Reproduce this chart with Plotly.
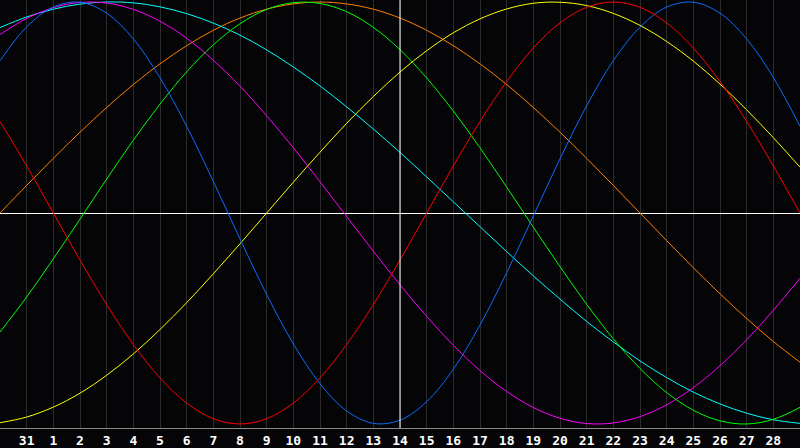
import plotly.graph_objects as go

# day labels along the bottom (index 0 and 30 sit on the frame edges, unlabeled)
days = list(range(31))
day_labels = ["31"] + [str(d) for d in range(1, 29)]
today_index = 15  # the "14" column, drawn as a white line

# cycle values at each day column
physical = [0.721, 0.882, 0.976, 0.999, 0.947, 0.825, 0.641, 0.411, 0.150, -0.123,
            -0.386, -0.620, -0.809, -0.938, -0.997, -0.982, -0.894, -0.740, -0.531, -0.283,
            -0.014, 0.257, 0.508, 0.722, 0.881, 0.976, 0.999, 0.947, 0.825, 0.642, 0.411]
emotional = [0.434, 0.223, 0.000, -0.223, -0.434, -0.623, -0.782, -0.901, -0.975, -1.000,
             -0.975, -0.901, -0.782, -0.623, -0.434, -0.223, 0.000, 0.223, 0.434, 0.623,
             0.782, 0.901, 0.975, 1.000, 0.975, 0.901, 0.782, 0.623, 0.434, 0.223, 0.000]
intellectual = [-0.564, -0.398, -0.217, -0.029, 0.161, 0.345, 0.516, 0.669, 0.797, 0.897,
                0.965, 0.997, 0.993, 0.954, 0.880, 0.774, 0.640, 0.483, 0.309, 0.123,
                -0.067, -0.254, -0.433, -0.596, -0.737, -0.851, -0.935, -0.985, -1.000, -0.978, -0.921]
intuitive = [0.846, 0.922, 0.973, 0.998, 0.995, 0.965, 0.909, 0.828, 0.724, 0.601,
             0.461, 0.309, 0.148, -0.017, -0.181, -0.340, -0.490, -0.627, -0.747, -0.846,
             -0.922, -0.973, -0.998, -0.995, -0.965, -0.909, -0.828, -0.724, -0.601, -0.461, -0.309]
aesthetic = [-0.994, -0.967, -0.920, -0.854, -0.769, -0.668, -0.552, -0.425, -0.288, -0.146,
             0.000, 0.146, 0.288, 0.425, 0.552, 0.668, 0.769, 0.854, 0.920, 0.967,
             0.994, 0.999, 0.983, 0.946, 0.889, 0.813, 0.720, 0.611, 0.489, 0.357, 0.217]
awareness = [0.000, 0.131, 0.259, 0.383, 0.500, 0.609, 0.707, 0.793, 0.866, 0.924,
             0.966, 0.991, 1.000, 0.991, 0.966, 0.924, 0.866, 0.793, 0.707, 0.609,
             0.500, 0.383, 0.259, 0.131, 0.000, -0.131, -0.259, -0.383, -0.500, -0.609, -0.707]
spiritual = [0.879, 0.929, 0.966, 0.990, 1.000, 0.996, 0.977, 0.945, 0.900, 0.843,
             0.773, 0.692, 0.602, 0.503, 0.398, 0.287, 0.171, 0.053, -0.065, -0.183,
             -0.298, -0.408, -0.514, -0.611, -0.701, -0.780, -0.849, -0.905, -0.949, -0.980, -0.997]

series = [
    ("Aesthetic", aesthetic, "#ffff00"),
    ("Awareness", awareness, "#ff8000"),
    ("Spiritual", spiritual, "#00ffff"),
    ("Intuitive", intuitive, "#ff00ff"),
    ("Intellectual", intellectual, "#00ff00"),
    ("Physical", physical, "#0a6cff"),
    ("Emotional", emotional, "#ff0000"),
]

fig = go.Figure()
for name, vals, color in series:
    fig.add_trace(go.Scatter(
        x=days, y=vals, name=name, mode="lines",
        line=dict(color=color, width=1, shape="spline", smoothing=1.0),
        hoverinfo="skip",
    ))

# today marker
fig.add_shape(type="line", x0=today_index, x1=today_index, y0=0, y1=1,
              xref="x", yref="paper", line=dict(color="#ffffff", width=1),
              layer="above")

fig.update_layout(
    width=800, height=448,
    margin=dict(l=0, r=0, t=0, b=20),
    paper_bgcolor="#050508",
    plot_bgcolor="#050508",
    showlegend=False,
    xaxis=dict(
        range=[0, 30],
        tickmode="array",
        tickvals=days[1:30],
        ticktext=day_labels,
        showgrid=True, gridcolor="#2c2c2c", gridwidth=1,
        zeroline=False,
        showline=True, linecolor="#8a8a8a", linewidth=1, mirror=True,
        ticks="", ticklen=0,
        tickfont=dict(family="DejaVu Sans Mono", size=13, color="#ffffff", weight="bold"),
        fixedrange=True,
    ),
    yaxis=dict(
        range=[-1.019, 1.0095],
        showgrid=False,
        zeroline=True, zerolinecolor="#ffffff", zerolinewidth=1,
        showticklabels=False,
        showline=True, linecolor="#8a8a8a", linewidth=1,
        fixedrange=True,
    ),
)

# drop the page's default body margin so the chart fills the window
fig.write_html("out.html", config={"displayModeBar": False},
               post_script="document.body.style.margin='0';")
